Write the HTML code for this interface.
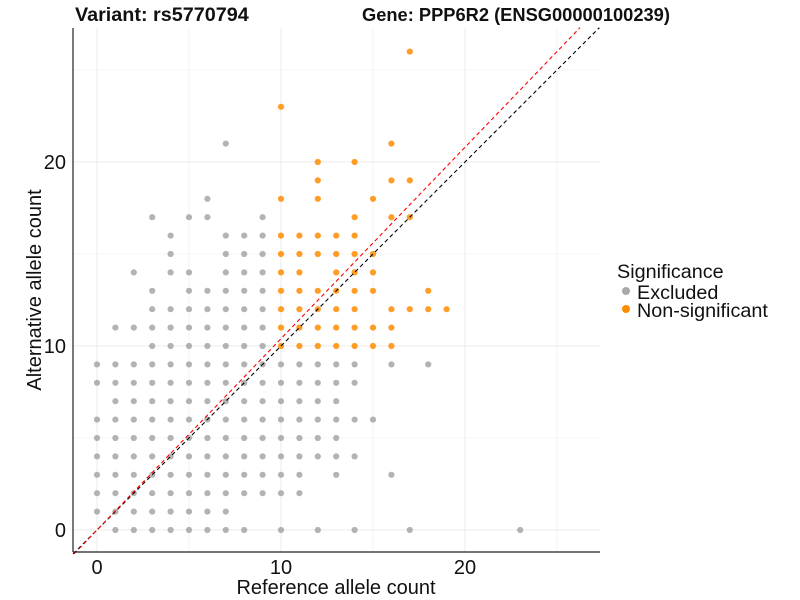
<!DOCTYPE html>
<html><head><meta charset="utf-8"><style>
body{margin:0;background:#fff;}
svg{display:block;font-family:"Liberation Sans",sans-serif;}
</style></head><body>
<svg id="s" width="800" height="600" viewBox="0 0 800 600">
<rect width="800" height="600" fill="#fff"/>
<g id="grid" stroke="#ebebeb" stroke-width="1"></g>
<g id="pts"></g>
<g id="lines"></g>
<line x1="73" y1="28" x2="73" y2="552" stroke="#222" stroke-width="1.2"/>
<line x1="73" y1="552" x2="600" y2="552" stroke="#222" stroke-width="1.2"/>
<g font-size="20" fill="#111">
<text x="97" y="574" text-anchor="middle">0</text>
<text x="281" y="574" text-anchor="middle">10</text>
<text x="465" y="574" text-anchor="middle">20</text>
<text x="66" y="537" text-anchor="end">0</text>
<text x="66" y="353" text-anchor="end">10</text>
<text x="66" y="169" text-anchor="end">20</text>
<text x="336" y="594" text-anchor="middle">Reference allele count</text>
<text transform="translate(41,290) rotate(-90)" text-anchor="middle">Alternative allele count</text>
</g>
<g font-weight="bold" fill="#111">
<text x="75" y="21" font-size="19.8">Variant: rs5770794</text>
<text x="362" y="21" font-size="18.3">Gene: PPP6R2 (ENSG00000100239)</text>
</g>
<g font-size="19.8" fill="#111">
<text x="617" y="278">Significance</text>
<circle cx="626" cy="291" r="4" fill="#a9a9a9"/>
<text x="637" y="299">Excluded</text>
<circle cx="626" cy="309" r="4" fill="#ff8c00"/>
<text x="637" y="317">Non-significant</text>
</g>
</svg>
<script>
var NS="http://www.w3.org/2000/svg";
function X(x){return 97+18.4*x;} function Y(y){return 530-18.4*y;}
var g=document.getElementById('grid');
function ln(p,x1,y1,x2,y2,a){var l=document.createElementNS(NS,'line');l.setAttribute('x1',x1);l.setAttribute('y1',y1);l.setAttribute('x2',x2);l.setAttribute('y2',y2);for(var k in a)l.setAttribute(k,a[k]);p.appendChild(l);}
[0,5,10,15,20,25].forEach(function(v){ln(g,X(v),28,X(v),552,{'stroke-width':v%10?0.6:1});ln(g,73,Y(v),600,Y(v),{'stroke-width':v%10?0.6:1});});
var gray={21:[7],18:[6],17:[3,5,6,9],16:[4,7,8,9],15:[4,7,8,9],14:[2,4,5,7,8,9],13:[3,5,6,7,8,9],12:[3,4,5,6,7,8,9],11:[1,2,3,4,5,6,7,8,9],
10:[3,4,5,6,7,8,9],9:[0,1,2,3,4,5,6,7,8,9,10,11,12,13,14,16,18],8:[0,1,2,3,4,5,6,7,8,9,10,11,12,13,14],7:[1,2,3,4,5,6,7,8,9,10,11,12,13],
6:[0,1,2,3,4,5,6,7,8,9,10,11,12,13,14,15],5:[0,1,2,3,4,5,6,7,8,9,10,11,12,13],4:[0,1,2,3,4,5,6,7,8,9,10,11,12,13,14],
3:[0,1,2,3,4,5,6,7,8,9,10,11,13,16],2:[0,1,2,3,4,5,6,7,8,9,10,11],1:[0,1,2,3,4,5,6,7],0:[1,2,3,4,5,6,7,8,10,12,14,17,23]};
var orng={26:[17],23:[10],21:[16],20:[12,14],19:[12,16,17],18:[10,12,15],17:[14,16,17],16:[10,11,12,13,14],15:[10,11,12,13,14,15],
14:[10,11,13,14,15],13:[10,11,12,13,14,15,18],12:[10,11,12,13,14,16,17,18,19],11:[10,11,12,13,14,15,16],10:[10,11,12,13,14,15,16]};
var p=document.getElementById('pts');
function dots(d,c,o){for(var y in d)d[y].forEach(function(x){var e=document.createElementNS(NS,'circle');e.setAttribute('cx',X(x));e.setAttribute('cy',Y(+y));e.setAttribute('r',3.1);e.setAttribute('fill',c);e.setAttribute('fill-opacity',o);p.appendChild(e);});}
dots(gray,'#a0a0a0',0.8);dots(orng,'#ff8c00',0.85);
var L=document.getElementById('lines');
ln(L,X(-1.3),Y(-1.3),X(27.3),Y(27.3),{stroke:'#000','stroke-dasharray':'4,3','stroke-width':1.1});
ln(L,X(-1.25),Y(-1.3),X(26.25),Y(27.3),{stroke:'#ff0000','stroke-dasharray':'4,3','stroke-width':1.1});
</script>
</body></html>
